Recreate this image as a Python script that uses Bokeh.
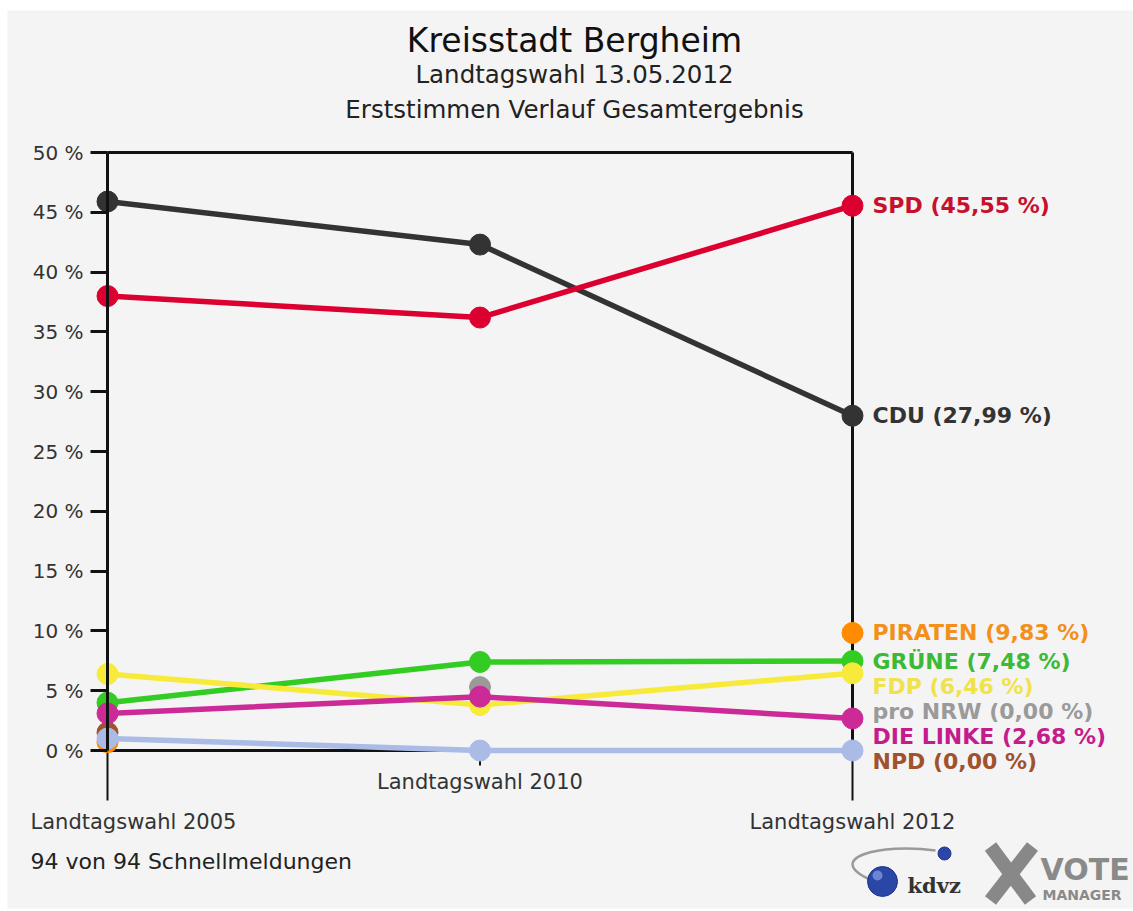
from bokeh.plotting import figure
from bokeh.models import Range1d, LinearAxis, FixedTicker, CustomJSTickFormatter
from bokeh.core.properties import value
from bokeh.embed import file_html
from bokeh.resources import INLINE

nan = float("nan")

# ---------------- data ----------------
elections = ["Landtagswahl 2005", "Landtagswahl 2010", "Landtagswahl 2012"]
y_ticks = [0, 5, 10, 15, 20, 25, 30, 35, 40, 45, 50]

piraten = [0.7, nan, 9.83]
npd = [1.5, nan, nan]
pro_nrw = [nan, 5.3, nan]
gruene = [4.0, 7.4, 7.48]
fdp = [6.4, 3.8, 6.46]
linke = [3.1, 4.5, 2.68]
sonstige = [1.0, 0.0, 0.0]
cdu = [45.9, 42.3, 27.99]
spd = [38.0, 36.2, 45.55]

# 2012 results shown in the labels
result_2012 = {"SPD": 45.55, "CDU": 27.99, "PIRATEN": 9.83, "GRÜNE": 7.48,
               "FDP": 6.46, "pro NRW": 0.00, "DIE LINKE": 2.68, "NPD": 0.00}

# drawing order (bottom -> top)
series = [
    ("PIRATEN", piraten, "#ff8c00", "#f39019"),
    ("NPD", npd, "#a0522d", "#a0522d"),
    ("pro NRW", pro_nrw, "#9a9a9a", "#9a9a9a"),
    ("GRÜNE", gruene, "#33cc22", "#3cb935"),
    ("FDP", fdp, "#f8ea3a", "#f0e24c"),
    ("DIE LINKE", linke, "#cc2a96", "#c41c8c"),
    ("", sonstige, "#aabbe6", "#aabbe6"),
    ("CDU", cdu, "#333333", "#333333"),
    ("SPD", spd, "#dc0030", "#c8102e"),
]

# ---------------- geometry ----------------
W, H = 1133, 911
PX0, PX2 = 107, 852         # canvas x of first / last election
PY0, PY50 = 750, 152        # canvas y of 0 % / 50 %
sx = (PX2 - PX0) / 2.0
sy = (PY0 - PY50) / 50.0


def dx(px):
    return (px - PX0) / sx


def dy(py):
    return (PY0 - py) / sy


BG = "#f4f4f4"
p = figure(width=W, height=H, output_backend="svg", toolbar_location=None,
           x_axis_type=None, y_axis_type=None,
           x_range=Range1d(-PX0 / sx, (W - PX0) / sx),
           y_range=Range1d(-(H - PY0) / sy, PY0 / sy),
           min_border=0, background_fill_color="white", border_fill_color="white",
           outline_line_color=None)
p.xgrid.visible = False
p.ygrid.visible = False

# grey page panel
p.quad(left=[dx(7)], right=[dx(1133)], top=[dy(10)], bottom=[dy(908)],
       fill_color=BG, line_color=None)

FONT = value("DejaVu Sans")

# y axis
yaxis = LinearAxis(fixed_location=0, bounds=(0, 50),
                   ticker=FixedTicker(ticks=y_ticks),
                   formatter=CustomJSTickFormatter(code="return tick + ' %'"),
                   axis_line_width=3, axis_line_color="#111111",
                   major_tick_line_width=3, major_tick_line_color="#111111",
                   major_tick_out=17, major_tick_in=0, minor_tick_out=0, minor_tick_in=0,
                   major_label_standoff=7,
                   major_label_text_font="DejaVu Sans",
                   major_label_text_font_size="20px",
                   major_label_text_color="#333333")
p.add_layout(yaxis, "left")

n = len(elections)
xs = list(range(n))
top = y_ticks[-1]
below = 50 / sy           # 50 px below zero
# frame box
p.segment(x0=[0, 0, n - 1], y0=[top, 0, top], x1=[n - 1, n - 1, n - 1], y1=[top, 0, 0],
          line_color="#111111", line_width=3)
# category ticks
p.segment(x0=[0, 1, n - 1], y0=[0, 0, 0], x1=[0, 1, n - 1], y1=[-below, -15 / sy, -below],
          line_color="#111111", line_width=2)

# series
for name, vals, col, _ in series:
    p.line(xs, vals, line_color=col, line_width=5.5)
    p.scatter(xs, vals, size=21, fill_color=col, line_color=col)


# right-hand labels (spread to avoid overlap)
def last_valid(v):
    for a in reversed(v):
        if a == a:
            return a
    return 0.0


labelled = [s for s in series if s[0]]
labelled.sort(key=lambda s: -last_valid(s[1]))
gap = 25 / sy
lx, ly, lt, lc = [], [], [], []
prev = None
for name, vals, col, tcol in labelled:
    key = last_valid(vals)
    yv = key if prev is None else min(key, prev - gap)
    prev = yv
    lx.append(n - 1)
    ly.append(yv)
    lt.append(f"{name} ({result_2012[name]:.2f} %)".replace(".", ","))
    lc.append(tcol)
p.text(x=lx, y=ly, text=lt, text_color=lc, x_offset=20, text_baseline="middle",
       text_align="left", text_font=FONT, text_font_style="bold", text_font_size="22px")

# category labels (staggered)
p.text(x=xs, y=[dy(821), dy(781), dy(821)], text=elections, x_offset=[26, 0, 0],
       text_align="center", text_baseline="middle", text_font=FONT,
       text_font_size="21px", text_color="#333333")

# titles
p.text(x=[dx(574)] * 3, y=[dy(40), dy(74), dy(109)],
       text=["Kreisstadt Bergheim", "Landtagswahl 13.05.2012", "Erststimmen Verlauf Gesamtergebnis"],
       text_font_size=["33px", "24.5px", "24.5px"], text_align="center", text_baseline="middle",
       text_font=FONT, text_color=["#111111", "#222222", "#222222"])

# footer
p.text(x=[dx(30)], y=[dy(861)], text=["94 von 94 Schnellmeldungen"], text_align="left",
       text_baseline="middle", text_font=FONT, text_font_size="22px", text_color="#222222")

# logos (decoration)
p.bezier(x0=[dx(872)], y0=[dy(880)], x1=[dx(935)], y1=[dy(850)],
         cx0=[dx(820)], cy0=[dy(858)], cx1=[dx(880)], cy1=[dy(842)],
         line_color="#9a9a9a", line_width=2.5)
p.scatter(x=[dx(882)], y=[dy(881)], size=30, fill_color="#2a46a6", line_color="#1e3488")
p.scatter(x=[dx(877)], y=[dy(875)], size=10, fill_color="#7f95dd", line_color=None, fill_alpha=0.8)
p.scatter(x=[dx(944)], y=[dy(853)], size=13, fill_color="#2a46a6", line_color="#1e3488")
p.text(x=[dx(907)], y=[dy(885)], text=["kdvz"], text_font=value("DejaVu Serif"),
       text_font_style="bold", text_font_size="21px", text_color="#333333",
       text_baseline="middle")
p.segment(x0=[dx(990), dx(1032)], y0=[dy(846), dy(846)], x1=[dx(1030), dx(990)],
          y1=[dy(900), dy(900)], line_color="#888888", line_width=14)
p.text(x=[dx(1040)], y=[dy(869)], text=["VOTE"], text_font=FONT, text_font_style="bold",
       text_font_size="30px", text_color="#8a8a8a", text_baseline="middle")
p.text(x=[dx(1042)], y=[dy(894)], text=["MANAGER"], text_font=FONT, text_font_style="bold",
       text_font_size="14px", text_color="#8a8a8a", text_baseline="middle")

open("out.html", "w").write(file_html(p, INLINE))
